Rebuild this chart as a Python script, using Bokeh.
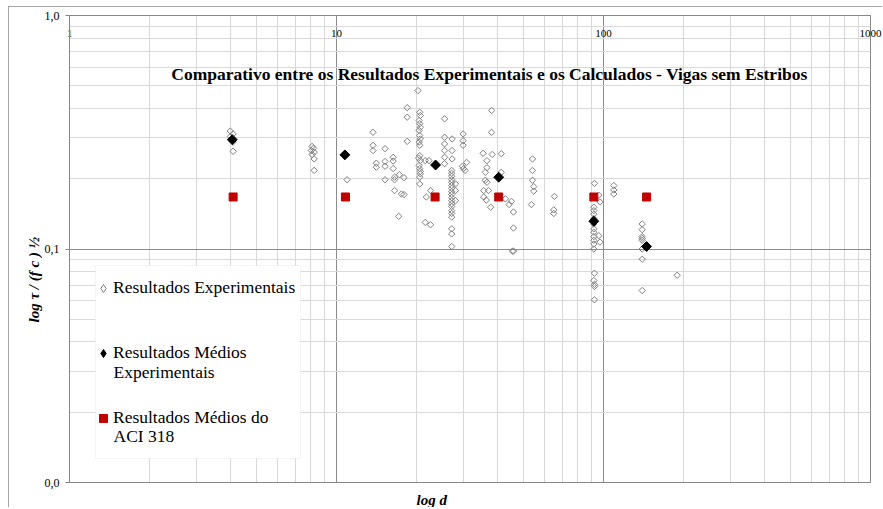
import math
from bokeh.plotting import figure
from bokeh.models import (FixedTicker, CustomJSTickFormatter, LogAxis, Label, Title,
                          Legend, LegendItem, Range1d, BoxAnnotation)
from bokeh.embed import file_html
from bokeh.resources import INLINE

# ---------------- data ----------------
exp_d = [4.0, 4.1, 4.0, 4.1, 4.1,
         8.1, 8.2, 8.05, 8.25, 8.1, 8.25, 8.25,
         10.95,
         13.7, 13.7, 13.7, 15.2, 14.1, 14.1, 15.2, 15.2, 16.3, 16.3, 16.3, 15.2,
         16.5, 16.5, 17.2, 17.9, 16.5, 17.5, 17.9, 17.1, 18.4, 18.4, 18.4, 20.2,
         20.5, 20.6, 20.4, 20.5, 20.6, 20.4, 20.5, 20.6, 20.4, 20.5, 20.5, 20.6,
         20.4, 20.5, 20.6, 20.5, 20.3, 20.6, 20.5,
         21.5, 22.2, 22.5, 21.7, 21.5, 22.5,
         25.4, 25.4, 25.4, 25.4, 25.4, 25.4, 27.1, 27.1, 27.1,
         27.0, 27.0, 27.0, 27.0, 27.0, 27.0, 27.0, 27.0, 27.0, 27.0, 27.0, 27.0,
         27.0, 27.0, 27.0, 27.0, 27.0, 27.0, 27.0,
         27.9, 27.9, 27.9, 29.8, 29.8, 29.8, 30.7, 29.6, 29.9, 30.3,
         38.1, 38.1, 35.4, 36.6, 38.3, 41.4, 36.6, 36.1, 36.1, 36.6, 35.6, 37.1,
         35.6, 36.4, 37.8, 41.4, 42.9, 44.3, 45.2, 46.0, 46.0, 45.6, 46.0,
         54.2, 54.2, 54.2, 54.8, 54.8, 53.7,
         65.5, 65.1, 65.1,
         92.5, 96.0, 97.0, 92.0, 92.0, 92.0, 92.0, 92.0, 92.0, 92.0, 92.0, 96.0,
         97.0, 92.0, 92.0, 92.0, 92.5, 92.0, 92.5, 92.5, 92.5,
         109.3, 109.3, 109.3,
         139.6, 139.6, 139.6, 139.6, 139.6, 139.6, 139.6, 139.6,
         188.8]
exp_v = [0.320, 0.311, 0.303, 0.287, 0.262,
         0.275, 0.270, 0.264, 0.260, 0.254, 0.243, 0.217,
         0.198,
         0.316, 0.278, 0.264, 0.269, 0.233, 0.224, 0.237, 0.226, 0.247, 0.238, 0.221, 0.198,
         0.203, 0.198, 0.208, 0.202, 0.178, 0.172, 0.171, 0.138, 0.403, 0.367, 0.289, 0.477,
         0.385, 0.373, 0.355, 0.344, 0.332, 0.322, 0.306, 0.296, 0.287, 0.278, 0.251, 0.239,
         0.228, 0.221, 0.210, 0.203, 0.245, 0.215, 0.190,
         0.239, 0.239, 0.178, 0.167, 0.130, 0.127,
         0.361, 0.301, 0.282, 0.264, 0.247, 0.232, 0.296, 0.264, 0.243,
         0.217, 0.211, 0.205, 0.198, 0.193, 0.187, 0.182, 0.176, 0.171, 0.166, 0.161, 0.156,
         0.152, 0.146, 0.142, 0.137, 0.122, 0.116, 0.1025,
         0.190, 0.178, 0.161, 0.311, 0.291, 0.278, 0.235, 0.226, 0.221, 0.217,
         0.392, 0.316, 0.257, 0.239, 0.254, 0.256, 0.223, 0.213, 0.197, 0.193, 0.178, 0.178,
         0.167, 0.162, 0.151, 0.213, 0.164, 0.155, 0.160, 0.144, 0.123, 0.098, 0.098,
         0.243, 0.217, 0.197, 0.185, 0.177, 0.155,
         0.168, 0.147, 0.142,
         0.191, 0.170, 0.159, 0.151, 0.146, 0.141, 0.135, 0.128, 0.122, 0.118, 0.113, 0.114,
         0.107, 0.109, 0.105, 0.100, 0.0788, 0.0733, 0.0705, 0.0691, 0.0606,
         0.187, 0.179, 0.172,
         0.128, 0.121, 0.113, 0.111, 0.109, 0.100, 0.0904, 0.0664,
         0.0772]

mean_d = [4.07, 10.75, 23.5, 40.5, 92.0, 145.0]
mean_v = [0.294, 0.253, 0.229, 0.203, 0.1315, 0.1025]

aci_d = [4.1, 10.8, 23.4, 40.5, 92.0, 145.0]
aci_v = [0.167, 0.167, 0.167, 0.167, 0.167, 0.167]

x_ticks = [1, 10, 100, 1000]
y_ticks = [0.01, 0.1, 1]

title_text = "Comparativo entre os Resultados Experimentais e os Calculados - Vigas sem Estribos"
x_title = "log d"
y_title = "log  τ / (f c ) ½"
legend_first_lines = ["Resultados Experimentais", "Resultados Médios", "Resultados Médios do"]
legend_second_lines = ["Experimentais", "ACI 318"]

# ---------------- figure ----------------
FONT = "Liberation Serif"
MAJOR = "#8c8c8c"
MINOR = "#d9d9d9"
FRAME = "#868686"

p = figure(width=874, height=501, x_axis_type="log", y_axis_type="log",
           x_range=Range1d(1, 1000), y_range=Range1d(0.01, 1),
           output_backend="svg", toolbar_location=None,
           min_border_left=60, min_border_right=13,
           min_border_top=8, min_border_bottom=26)
p.styles = {"margin-left": "8px", "margin-top": "6px",
            "border-top": "1px solid #a6a6a6", "border-left": "1px solid #a6a6a6"}
p.outline_line_color = FRAME
p.background_fill_color = "white"

xt = FixedTicker(ticks=x_ticks,
                 minor_ticks=[m * 10 ** k for k in range(0, 3) for m in range(2, 10)])
yt = FixedTicker(ticks=y_ticks,
                 minor_ticks=[round(m * 10.0 ** k, 4) for k in (-2, -1) for m in range(2, 10)])

# bottom x axis: just the line (invisible ticks push the title down)
xa = p.xaxis[0]
xa.ticker = xt
xa.formatter = CustomJSTickFormatter(code="return ''")
xa.major_tick_out = 7
xa.major_tick_in = 0
xa.major_tick_line_color = None
xa.minor_tick_out = 0
xa.minor_tick_in = 0
xa.major_label_standoff = 0
xa.axis_line_color = FRAME

# top x axis with its labels drawn just inside the frame
top = LogAxis(ticker=xt,
              formatter=CustomJSTickFormatter(code="return String(Math.round(tick))"),
              major_tick_out=0, major_tick_in=0, minor_tick_out=0, minor_tick_in=0,
              major_label_standoff=-21, axis_line_color=FRAME,
              major_label_text_font=FONT, major_label_text_font_size="11px",
              major_label_text_color="black")
p.add_layout(top, "above")

ya = p.yaxis[0]
ya.ticker = yt
ya.formatter = CustomJSTickFormatter(code="return tick.toFixed(1).replace('.', ',')")
ya.major_tick_out = 4
ya.major_tick_in = 0
ya.minor_tick_out = 0
ya.minor_tick_in = 0
ya.major_tick_line_color = FRAME
ya.axis_line_color = FRAME
ya.major_label_standoff = 6
ya.major_label_text_font = FONT
ya.major_label_text_font_size = "12px"
ya.major_label_text_color = "black"

p.xgrid.ticker = xt
p.ygrid.ticker = yt
for g in (p.xgrid, p.ygrid):
    g.grid_line_color = MAJOR
    g.minor_grid_line_color = MINOR
    g.grid_line_width = 1
    g.minor_grid_line_width = 1

# plotted marks (rotated squares give Excel-like diamonds)
exp_r = p.scatter(exp_d, exp_v, marker="square", size=4.5, angle=math.pi / 4,
                  fill_color=None, line_color="#808080", line_width=1)
mean_r = p.scatter(mean_d, mean_v, marker="square", size=7, angle=math.pi / 4,
                   fill_color="black", line_color="black")
aci_r = p.scatter(aci_d, aci_v, marker="square", size=8,
                  fill_color="#c00000", line_color="#c00000")

# hidden twins used only for the legend swatches (legend ignores marker angle)
exp_leg = p.scatter(exp_d, exp_v, marker="diamond", fill_color="white",
                    line_color="#808080", line_width=1, visible=False)
mean_leg = p.scatter(mean_d, mean_v, marker="diamond", fill_color="black",
                     line_color="black", visible=False)

# chart title inside the plot area
p.add_layout(Label(x=37.4, y=0.564, text=title_text, text_align="center",
                   text_baseline="middle", text_font=FONT, text_font_style="bold",
                   text_font_size="17.5px", text_color="black"))

# axis titles, placed off-centre as in the reference
p.add_layout(Title(text=x_title, align="left", offset=347, standoff=0,
                   text_font=FONT, text_font_style="bold italic",
                   text_font_size="15px", text_color="black"), "below")
p.add_layout(Title(text=y_title, align="left", offset=160, standoff=0,
                   text_font=FONT, text_font_style="bold italic",
                   text_font_size="15px", text_color="black"), "left")

# legend frame
p.add_layout(BoxAnnotation(left=1.251, right=7.33, top=0.0849, bottom=0.01267,
                           fill_color="white", fill_alpha=1.0,
                           line_color=MINOR, line_width=1))

legend = Legend(items=[LegendItem(label=legend_first_lines[0], renderers=[exp_leg]),
                       LegendItem(label=legend_first_lines[1], renderers=[mean_leg]),
                       LegendItem(label=legend_first_lines[2], renderers=[aci_r])],
                location=(20, 50), label_text_font=FONT, label_text_font_size="17.5px",
                label_text_color="black", label_height=20, spacing=44, padding=4,
                glyph_width=20, glyph_height=20, label_standoff=0,
                border_line_alpha=0, background_fill_alpha=0)
p.add_layout(legend, "center")

# wrapped second lines of the legend entries
p.add_layout(Label(x=1.462, y=0.02959, text=legend_second_lines[0], text_align="left",
                   text_baseline="middle", text_font=FONT, text_font_size="17.5px",
                   text_color="black"))
p.add_layout(Label(x=1.462, y=0.01574, text=legend_second_lines[1], text_align="left",
                   text_baseline="middle", text_font=FONT, text_font_size="17.5px",
                   text_color="black"))

open("out.html", "w").write(file_html(p, INLINE))
